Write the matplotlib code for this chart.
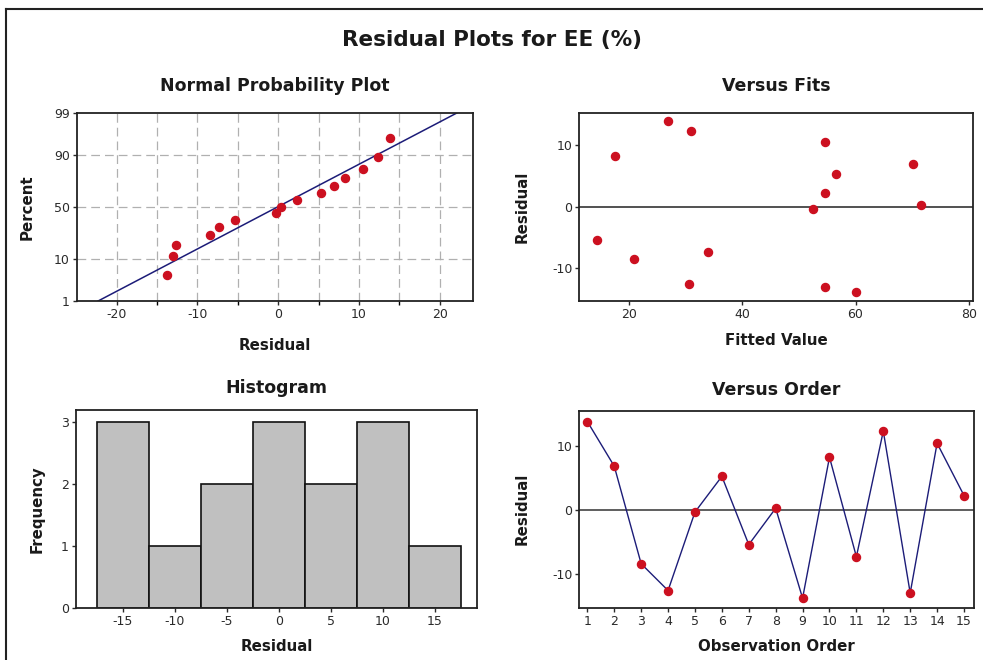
"""Four-panel residual diagnostics for EE (%)."""

from statistics import NormalDist

import numpy as np
from matplotlib import pyplot as plt
from matplotlib.lines import Line2D

# residuals in observation order
residuals = [13.9, 6.9, -8.4, -12.6, -0.3, 5.3, -5.4, 0.3,
             -13.8, 8.3, -7.3, 12.4, -13.0, 10.5, 2.3]
fitted = [26.9, 70.1, 20.9, 30.6, 52.4, 56.6, 14.4, 71.5,
          60.1, 17.5, 33.9, 30.9, 54.6, 54.6, 54.6]
order = list(range(1, 16))
pct_ticks = [1, 10, 50, 90, 99]
hist_edges = [-17.5, -12.5, -7.5, -2.5, 2.5, 7.5, 12.5, 17.5]

RED = '#cc1020'
NAVY = '#1c1c78'
TICK_COLOR = '#2a2a2a'
LABEL_FONT = dict(fontsize=10.8, fontweight='bold', color='#1a1a1a')
TITLE_FONT = dict(fontsize=12.5, fontweight='bold', color='#1a1a1a')

plt.rcParams['font.family'] = 'DejaVu Sans'
plt.rcParams['axes.unicode_minus'] = False


def style_axes(ax):
    """Common frame and tick styling."""
    for spine in ax.spines.values():
        spine.set_linewidth(1.3)
        spine.set_color('#222222')
    ax.tick_params(labelsize=9, colors=TICK_COLOR, length=3, width=1,
                   pad=2)


def plot_normal(ax, res):
    """Normal probability plot with fitted line."""
    nd = NormalDist()
    n = len(res)
    srt = np.sort(res)
    probs = [(i - 0.3) / (n + 0.4) for i in range(1, n + 1)]
    z = [nd.inv_cdf(p) for p in probs]
    mu = float(np.mean(res))
    sd = float(np.std(res, ddof=1))
    zlo, zhi = nd.inv_cdf(0.01), nd.inv_cdf(0.99)

    ax.set_xlim(-24.9, 24.1)
    ax.set_ylim(zlo, zhi)
    for gx in range(-20, 21, 5):
        ax.axvline(gx, color='#b0b0b0', lw=0.9, ls=(0, (7, 4)), zorder=0)
    for p in (10, 50, 90):
        ax.axhline(nd.inv_cdf(p / 100), color='#b0b0b0', lw=0.9,
                   ls=(0, (7, 4)), zorder=0)
    ax.plot([mu + sd * zlo, mu + sd * zhi], [zlo, zhi], color=NAVY, lw=1.1,
            zorder=2)
    ax.plot(srt, z, 'o', color=RED, ms=5.8, zorder=3)

    ax.set_yticks([nd.inv_cdf(p / 100) for p in pct_ticks])
    ax.set_yticklabels([str(p) for p in pct_ticks])
    ax.set_xticks([-20, -10, 0, 10, 20])
    ax.set_xticks(range(-15, 20, 10), minor=True)
    ax.tick_params(which='minor', length=3, width=1)
    ax.set_title('Normal Probability Plot', pad=16, **TITLE_FONT)
    ax.set_xlabel('Residual', labelpad=12, **LABEL_FONT)
    ax.set_ylabel('Percent', labelpad=14, **LABEL_FONT)


def plot_fits(ax, fits, res):
    """Residuals against fitted values."""
    ax.axhline(0, color='#222222', lw=1.1, zorder=1)
    ax.plot(fits, res, 'o', color=RED, ms=5.8, zorder=3)
    ax.set_xlim(11.2, 80.8)
    ax.set_ylim(-15.3, 15.3)
    ax.set_xticks([20, 40, 60, 80])
    ax.set_yticks([-10, 0, 10])
    ax.set_title('Versus Fits', pad=16, **TITLE_FONT)
    ax.set_xlabel('Fitted Value', labelpad=9, **LABEL_FONT)
    ax.set_ylabel('Residual', labelpad=16, **LABEL_FONT)


def plot_hist(ax, res):
    """Histogram of residuals."""
    ax.hist(res, bins=hist_edges, color='#c0c0c0', edgecolor='#111111',
            linewidth=1.2)
    ax.set_xlim(-19.5, 19.0)
    ax.set_ylim(0, 3.2)
    ax.set_xticks([-15, -10, -5, 0, 5, 10, 15])
    ax.set_yticks([0, 1, 2, 3])
    ax.set_title('Histogram', pad=12, **TITLE_FONT)
    ax.set_xlabel('Residual', labelpad=8, **LABEL_FONT)
    ax.set_ylabel('Frequency', labelpad=12, **LABEL_FONT)


def plot_order(ax, obs, res):
    """Residuals against observation order."""
    ax.axhline(0, color='#333333', lw=1.1, zorder=1)
    ax.plot(obs, res, '-', color=NAVY, lw=1.0, zorder=2)
    ax.plot(obs, res, 'o', color=RED, ms=5.8, zorder=3)
    ax.set_xlim(0.7, 15.37)
    ax.set_ylim(-15.3, 15.6)
    ax.set_xticks(obs)
    ax.set_yticks([-10, 0, 10])
    ax.set_title('Versus Order', pad=11, **TITLE_FONT)
    ax.set_xlabel('Observation Order', labelpad=8, **LABEL_FONT)
    ax.set_ylabel('Residual', labelpad=16, **LABEL_FONT)


def main():
    """Build the figure and save it."""
    fig = plt.figure(figsize=(9.83, 6.6), dpi=100)
    ax_norm = fig.add_axes([0.0783, 0.5439, 0.4028, 0.2853])
    ax_fits = fig.add_axes([0.5893, 0.5439, 0.4008, 0.2853])
    ax_hist = fig.add_axes([0.0773, 0.0792, 0.4076, 0.2995])
    ax_order = fig.add_axes([0.5893, 0.0792, 0.4015, 0.2985])

    plot_normal(ax_norm, residuals)
    plot_fits(ax_fits, fitted, residuals)
    plot_hist(ax_hist, residuals)
    plot_order(ax_order, order, residuals)
    for ax in (ax_norm, ax_fits, ax_hist, ax_order):
        style_axes(ax)

    fig.suptitle('Residual Plots for EE (%)', x=0.5, y=0.955,
                 fontsize=15.5, fontweight='bold', color='#1a1a1a')

    # outer frame, top and left edges
    fig.add_artist(Line2D([6 / 983, 1.0], [1 - 9 / 660, 1 - 9 / 660],
                          color='#222222', lw=1.5))
    fig.add_artist(Line2D([6 / 983, 6 / 983], [0.0, 1 - 9 / 660],
                          color='#222222', lw=1.5))

    fig.savefig('out.png', dpi=100)


if __name__ == '__main__':
    main()
